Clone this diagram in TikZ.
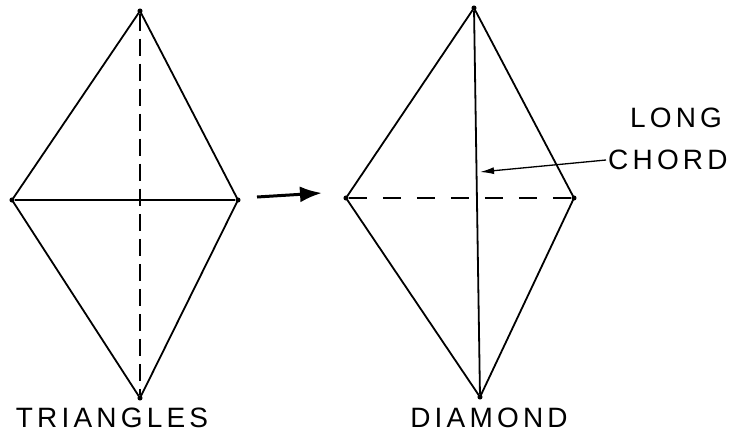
\documentclass[tikz,border=0pt]{standalone}
\usepackage{fontspec}
\usepackage{tikz}
\usetikzlibrary{arrows.meta,positioning}
\newfontfamily\handfont[LetterSpace=15]{Liberation Sans}
\tikzset{
  vertexdot/.style={
    circle,
    fill=black,
    inner sep=1.8pt
  },
  edgeline/.style={
    line width=1.8pt,
    draw=black
  },
  hiddenline/.style={
    edgeline,
    dash pattern=on 17pt off 8pt
  },
  pointarrow/.style={
    -{Latex[length=22pt,width=16pt]},
    line width=3pt
  },
  handlabel/.style={
    font=\handfont\fontsize{28}{30}\selectfont,
    inner sep=0pt,
    align=left
  }
}

\begin{document}
\begin{tikzpicture}[x=1pt,y=-1pt]
    \useasboundingbox (0,0) rectangle (738,434);
    % triangles
    \node[vertexdot] (ttop) at (140,11) {};
    \node[vertexdot] (tleft) at (12,200) {};
    \node[vertexdot] (tright) at (238,200) {};
    \node[vertexdot] (tbot) at (140,398) {};
    % diamond
    \node[vertexdot] (dtop) at (474,8) {};
    \node[vertexdot] (dleft) at (346,198) {};
    \node[vertexdot] (dright) at (574,198) {};
    \node[vertexdot] (dbot) at (480,397) {};

    \draw[edgeline] (ttop.center) -- (tleft.center) -- (tbot.center) -- (tright.center) -- cycle;
    \draw[edgeline] (tleft) -- (tright);
    \draw[hiddenline] (ttop) -- (tbot);

    \draw[edgeline] (dtop.center) -- (dleft.center) -- (dbot.center) -- (dright.center) -- cycle;
    \draw[edgeline] (dtop) -- (dbot);
    \draw[hiddenline, dash pattern=on 18pt off 16pt] (dleft) -- (dright);

    \coordinate (arrfrom) at (257,197);
    \coordinate (arrto) at (322,193);
    \draw[pointarrow] (arrfrom) -- (arrto);

    \node[handlabel] (longlbl) at (676,118) {LONG};
    \node[handlabel, anchor=west] (chordlbl) at (608,160) {CHORD};
    \coordinate (chordpt) at (480,172);
    \draw[-{Latex[length=14pt,width=7pt]}, line width=1.3pt] ([xshift=-2pt]chordlbl.west) -- (chordpt);

    \node[handlabel] (trilbl) at (112,418) {TRIANGLES};
    \node[handlabel] (diamlbl) at (489,418) {DIAMOND};
\end{tikzpicture}
\end{document}
